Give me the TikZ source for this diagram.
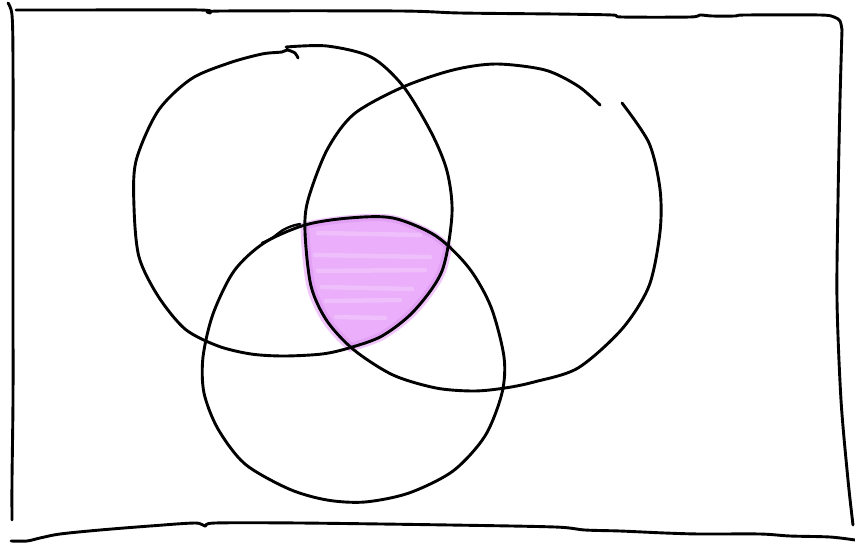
\documentclass[tikz,border=0pt]{standalone}
\definecolor{vennfill}{RGB}{234,174,250}
\definecolor{vennedge}{RGB}{214,140,238}
\begin{document}
\begin{tikzpicture}[x=1pt,y=-1pt,
  ink/.style={line width=2.9pt, line cap=round, line join=round, black},
  streak/.style={white, opacity=0.22, line width=4.5pt, line cap=round},
  rim/.style={vennedge, opacity=0.4, line width=9pt}]
\useasboundingbox (0,0) rectangle (855,560);
\fill[white] (0,0) rectangle (855,560);

% ---------- soft overflow of the shading ----------
\begin{scope}
  \clip[scale around={1.025:(292,200)}] plot[smooth cycle] coordinates {(286,47) (327,46) (371,57) (403,86) (431,132) (447,171) (452,214) (442,271) (414,311) (382,336) (349,348) (322,354) (284,356) (251,354) (218,346) (185,329) (158,296) (139,257) (134,207) (136,161) (158,111) (191,79) (229,63) (262,52)};
  \clip[scale around={1.025:(482,228)}] plot[smooth cycle] coordinates {(496,64) (545,70) (578,86) (611,104) (649,143) (660,189) (660,232) (649,286) (622,329) (578,368) (534,382) (505,388) (474,391) (436,388) (393,375) (354,350) (327,321) (311,286) (305,232) (308,200) (327,150) (354,114) (403,87) (453,70)};
  \clip[scale around={1.02:(354,358)}] plot[smooth cycle] coordinates {(349,218) (393,218) (436,236) (469,268) (491,307) (504,357) (502,393) (485,436) (453,471) (409,493) (365,502) (327,500) (289,489) (245,464) (218,429) (204,393) (203,357) (213,314) (234,271) (264,243) (305,225)};
  \fill[vennfill, opacity=0.7] (270,190) rectangle (480,380);
\end{scope}

% ---------- shaded triple intersection ----------
\begin{scope}
  \clip plot[smooth cycle] coordinates {(286,47) (327,46) (371,57) (403,86) (431,132) (447,171) (452,214) (442,271) (414,311) (382,336) (349,348) (322,354) (284,356) (251,354) (218,346) (185,329) (158,296) (139,257) (134,207) (136,161) (158,111) (191,79) (229,63) (262,52)};
  \clip plot[smooth cycle] coordinates {(496,64) (545,70) (578,86) (611,104) (649,143) (660,189) (660,232) (649,286) (622,329) (578,368) (534,382) (505,388) (474,391) (436,388) (393,375) (354,350) (327,321) (311,286) (305,232) (308,200) (327,150) (354,114) (403,87) (453,70)};
  \clip plot[smooth cycle] coordinates {(349,218) (393,218) (436,236) (469,268) (491,307) (504,357) (502,393) (485,436) (453,471) (409,493) (365,502) (327,500) (289,489) (245,464) (218,429) (204,393) (203,357) (213,314) (234,271) (264,243) (305,225)};
  \fill[vennfill] (280,200) rectangle (470,370);
  \draw[rim] plot[smooth cycle] coordinates {(286,47) (327,46) (371,57) (403,86) (431,132) (447,171) (452,214) (442,271) (414,311) (382,336) (349,348) (322,354) (284,356) (251,354) (218,346) (185,329) (158,296) (139,257) (134,207) (136,161) (158,111) (191,79) (229,63) (262,52)};
  \draw[rim] plot[smooth cycle] coordinates {(496,64) (545,70) (578,86) (611,104) (649,143) (660,189) (660,232) (649,286) (622,329) (578,368) (534,382) (505,388) (474,391) (436,388) (393,375) (354,350) (327,321) (311,286) (305,232) (308,200) (327,150) (354,114) (403,87) (453,70)};
  \draw[rim] plot[smooth cycle] coordinates {(349,218) (393,218) (436,236) (469,268) (491,307) (504,357) (502,393) (485,436) (453,471) (409,493) (365,502) (327,500) (289,489) (245,464) (218,429) (204,393) (203,357) (213,314) (234,271) (264,243) (305,225)};
  \draw[streak] (318,233) -- (420,235);
  \draw[streak] (315,255) -- (430,257);
  \draw[streak] (318,271) -- (425,270);
  \draw[streak] (322,287) -- (412,289);
  \draw[streak] (326,301) -- (400,300);
  \draw[streak] (336,317) -- (385,318);
\end{scope}

% ---------- circle A (top left) ----------
\draw[ink] plot[smooth] coordinates {(286,47) (327,46) (371,57) (403,86) (431,132) (447,171) (452,214) (442,271) (414,311) (382,336) (349,348) (322,354) (284,356) (251,354) (218,346) (185,329) (158,296) (139,257) (134,207) (136,161) (158,111) (191,79) (229,63) (262,54) (282,52) (287,50) (295,53) (298,58)};

% ---------- circle B (top right) ----------
\draw[ink] plot[smooth] coordinates {(622,103) (649,143) (660,189) (660,232) (649,286) (622,329) (578,368) (534,382) (505,388) (474,391) (436,388) (393,375) (354,350) (327,321) (311,286) (305,232) (308,200) (327,150) (354,114) (403,87) (453,70) (496,64) (545,70) (578,86) (600,105)};

% ---------- circle C (bottom) ----------
\draw[ink] plot[smooth cycle] coordinates {(349,218) (393,218) (436,236) (469,268) (491,307) (504,357) (502,393) (485,436) (453,471) (409,493) (365,502) (327,500) (289,489) (245,464) (218,429) (204,393) (203,357) (213,314) (234,271) (264,243) (305,225)};
\draw[ink, line width=2.4pt] plot[smooth] coordinates {(262,243) (272,238) (283,230) (292,226) (300,224)};

% ---------- hand-drawn frame ----------
\draw[ink] plot[smooth] coordinates {(16,10) (70,10) (200,10) (210,13) (222,11) (400,11) (460,13) (555,14) (612,15) (622,17) (690,17) (700,15) (712,16) (735,16) (745,15) (820,15) (834,17) (840,21) (842,30)};
\draw[ink] plot[smooth] coordinates {(842,30) (840,100) (838,200) (837,300) (841,400) (848,480) (853,525)};
\draw[ink] plot[smooth] coordinates {(8,3) (12,15) (13,60) (13,200) (13,300) (13,400) (12,480) (12,520)};
\draw[ink] plot[smooth] coordinates {(11,541) (27,541) (40,538) (60,534) (100,530) (150,526) (195,523) (205,526) (215,523) (300,523) (450,525) (555,527) (585,530) (620,531) (665,533) (700,534) (760,534) (790,536) (830,537) (855,540)};
\end{tikzpicture}
\end{document}
